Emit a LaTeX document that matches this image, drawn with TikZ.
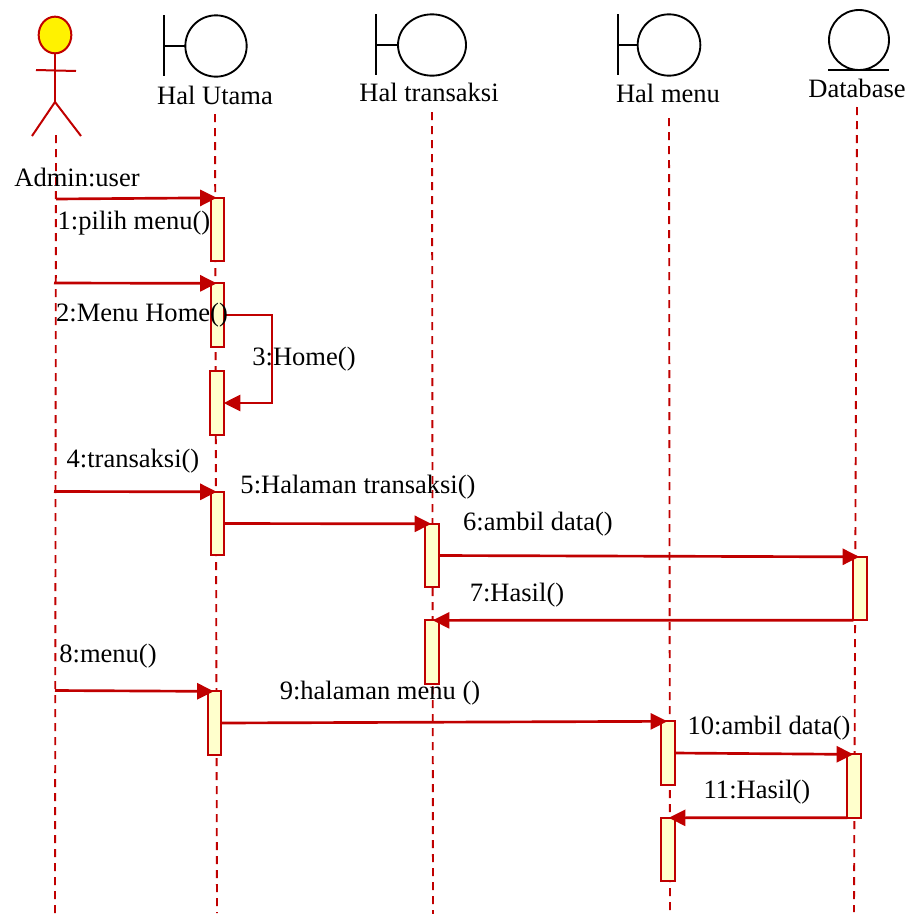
\documentclass[tikz,border=0pt]{standalone}
\usepackage{fontspec}
\setmainfont{Liberation Serif}
\usetikzlibrary{arrows.meta,shapes.geometric}
\definecolor{umlred}{RGB}{192,0,0}
\definecolor{barfill}{RGB}{255,255,204}
\tikzset{
  x=0.75pt,y=-0.75pt,
  lifeline/.style={draw=umlred,line width=1.4pt,dash pattern=on 6pt off 4.5pt},
  actorline/.style={draw=umlred,line width=1.5pt},
  iconline/.style={draw=black,line width=1.4pt},
  msg/.style={draw=umlred,line width=2pt,-{Triangle[length=12.5pt,width=12pt]}},
  into/.style={msg,shorten >=-4.5pt},
  actbar/.style={draw=umlred,fill=barfill,line width=1.6pt,rectangle,minimum width=10pt,minimum height=47.5pt,inner sep=0pt,outer sep=0pt},
  lbl/.style={font=\fontsize{19.9}{22}\selectfont,text=black,inner sep=0pt,anchor=base},
  bshape/.style={ellipse,draw=black,line width=1.4pt,fill=white,inner sep=0pt,outer sep=0pt}
}
\begin{document}
\begin{tikzpicture}
\useasboundingbox (0,0) rectangle (909,914);
% lifeline ends
\coordinate (l0a) at (56,135); \coordinate (l0b) at (55,913);
\coordinate (l1a) at (215,114); \coordinate (l1b) at (217,913);
\coordinate (l2a) at (432,112); \coordinate (l2b) at (433,914);
\coordinate (l3a) at (669,118); \coordinate (l3b) at (670,910);
\coordinate (l4a) at (857,107); \coordinate (l4b) at (854,912);
\draw[lifeline] (l0a) -- (l0b);
\draw[lifeline] (l1a) -- (l1b);
\draw[lifeline] (l2a) -- (l2b);
\draw[lifeline] (l3a) -- (l3b);
\draw[lifeline] (l4a) -- (l4b);
% actor
\node[bshape,draw=umlred,fill=yellow,line width=1.5pt,minimum width=24.5pt,minimum height=27.5pt] (head) at (55,35) {};
\coordinate (hip) at (55,102);
\coordinate (armL) at (36,70); \coordinate (armR) at (76,71);
\coordinate (legL) at (32,136); \coordinate (legR) at (81,136);
\draw[actorline] (head.south) -- (hip);
\draw[actorline] (armL) -- (armR);
\draw[actorline] (legL) -- (hip) -- (legR);
% boundary icons
\node[bshape,minimum width=46pt,minimum height=46pt] (b1) at (216,46) {};
\coordinate (b1t) at (164,15); \coordinate (b1b) at (164,76); \coordinate (b1m) at (164,46);
\draw[iconline] (b1t) -- (b1b); \draw[iconline] (b1m) -- (b1.west);
\node[bshape,minimum width=51pt,minimum height=46pt] (b2) at (432,45) {};
\coordinate (b2t) at (376,14); \coordinate (b2b) at (376,75); \coordinate (b2m) at (376,45);
\draw[iconline] (b2t) -- (b2b); \draw[iconline] (b2m) -- (b2.west);
\node[bshape,minimum width=47pt,minimum height=46pt] (b3) at (669,45) {};
\coordinate (b3t) at (618,14); \coordinate (b3b) at (618,75); \coordinate (b3m) at (618,45);
\draw[iconline] (b3t) -- (b3b); \draw[iconline] (b3m) -- (b3.west);
% entity icon
\node[bshape,minimum width=45pt,minimum height=45pt] (db) at (859,40) {};
\coordinate (dbL) at (828,70); \coordinate (dbR) at (889,70);
\draw[iconline] (dbL) -- (dbR);
% participant labels
\node[lbl] (nUtama) at (215,104) {Hal Utama};
\node[lbl] (nTrans) at (429,101) {Hal transaksi};
\node[lbl] (nMenu) at (668,102) {Hal menu};
\node[lbl] (nDb) at (857,97) {Database};
\node[lbl] (nAdmin) at (77,186) {Admin:user};
% activation bars
\node[actbar] (a1) at (217.5,229.5) {};
\node[actbar] (a2) at (217.5,315) {};
\node[actbar] (a3) at (217,403) {};
\node[actbar] (a4) at (217.5,523.5) {};
\node[actbar] (a5) at (432,555.5) {};
\node[actbar] (a6) at (860,588.5) {};
\node[actbar] (a7) at (432,652) {};
\node[actbar] (a8) at (214.5,723) {};
\node[actbar] (a9) at (668,753) {};
\node[actbar] (a10) at (854,786) {};
\node[actbar] (a11) at (668,849.5) {};
% message sources
\coordinate (m1) at (56,199);
\coordinate (m2) at (54,283);
\coordinate (m4) at (54,491.5);
\coordinate (m8) at (55,690.5);
\coordinate (loopA) at (272,315);
\coordinate (loopB) at (272,403);
% messages
\draw[into] (m1) -- (a1.north west);
\draw[into] (m2) -- (a2.north west);
\draw[msg] (a2.east) -- (loopA) -- (loopB) -- (a3.east);
\draw[into] (m4) -- (a4.north west);
\draw[into] (a4.east |- 0,523.5) -- (a5.north west);
\draw[into] (a5.east |- 0,555.5) -- (a6.north west);
\draw[into] (a6.south west) -- (a7.north east);
\draw[into] (m8) -- (a8.north west);
\draw[into] (a8.east |- 0,723) -- (a9.north west);
\draw[into] (a9.east) -- (a10.north west);
\draw[into] (a10.south west) -- (a11.north east);
% message labels
\node[lbl] (t1) at (134,229) {1:pilih menu()};
\node[lbl] (t2) at (142,321) {2:Menu Home()};
\node[lbl] (t3) at (304,365) {3:Home()};
\node[lbl] (t4) at (133,467) {4:transaksi()};
\node[lbl] (t5) at (358,493) {5:Halaman transaksi()};
\node[lbl] (t6) at (538,530) {6:ambil data()};
\node[lbl] (t7) at (517,601) {7:Hasil()};
\node[lbl] (t8) at (108,662) {8:menu()};
\node[lbl] (t9) at (380,699) {9:halaman menu ()};
\node[lbl] (t10) at (769,734) {10:ambil data()};
\node[lbl] (t11) at (757,798) {11:Hasil()};
\end{tikzpicture}
\end{document}
